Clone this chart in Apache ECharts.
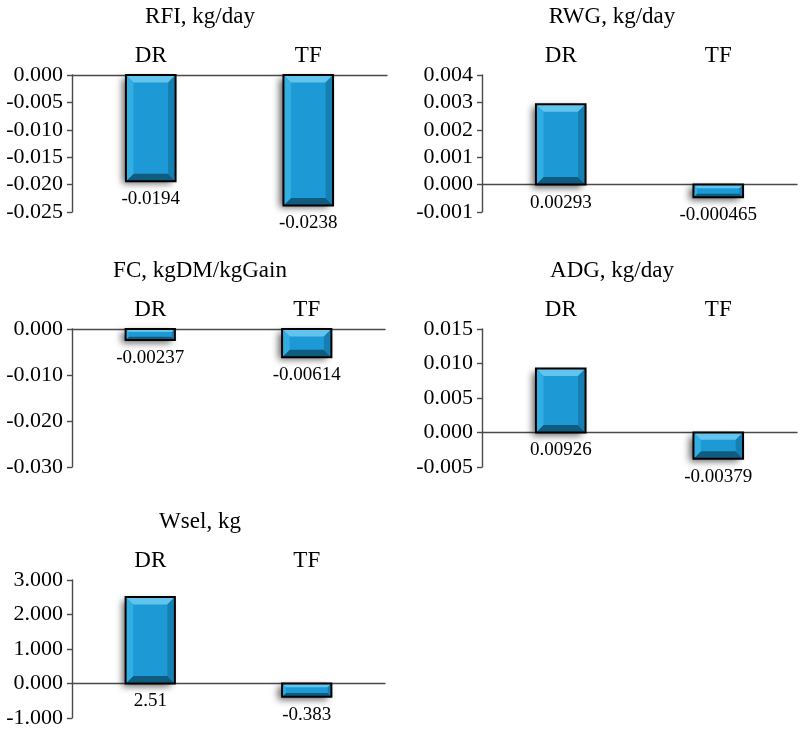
<!DOCTYPE html>
<html>
<head>
<meta charset="utf-8">
<script src="https://cdn.jsdelivr.net/npm/echarts@6/dist/echarts.min.js"></script>
<style>
html,body{margin:0;padding:0;background:#fff;}
#chart{width:800px;height:731px;}
</style>
</head>
<body>
<div id="chart"></div>
<script>
// ---- data ----
var categories = ['DR', 'TF'];
var panelTitles = ['RFI, kg/day', 'RWG, kg/day', 'FC, kgDM/kgGain', 'ADG, kg/day', 'Wsel, kg'];
var rfiValues = [-0.0194, -0.0238];
var rwgValues = [0.00293, -0.000465];
var fcValues = [-0.00237, -0.00614];
var adgValues = [0.00926, -0.00379];
var wselValues = [2.51, -0.383];
var axisMins = [-0.025, -0.001, -0.030, -0.005, -1];
var axisMaxs = [0, 0.004, 0, 0.015, 3];
var axisIntervals = [0.005, 0.001, 0.010, 0.005, 1];
var panelValues = [rfiValues, rwgValues, fcValues, adgValues, wselValues];

// ---- layout ----
var grids = [
  {left: 72, top: 75, width: 315, height: 137},
  {left: 482, top: 75, width: 315, height: 137},
  {left: 72, top: 329, width: 313, height: 138},
  {left: 482, top: 329, width: 315, height: 138},
  {left: 72, top: 580, width: 313, height: 138}
];
var titlePos = [[200, 17], [612, 17], [200, 271], [612, 271], [200, 522]];

var FONT = '"Liberation Serif", "Times New Roman", serif';

function renderBar(params, api) {
  var cat = api.value(0);
  var val = api.value(1);
  var zero = api.coord([cat, 0]);
  var end = api.coord([cat, val]);
  var w = api.size([1, 0])[0] * 0.315;
  var l = zero[0] - w / 2, r = zero[0] + w / 2;
  var t = Math.min(zero[1], end[1]), b = Math.max(zero[1], end[1]);
  var h = b - t;
  var bv = Math.min(7.5, h * 0.28);
  var children = [
    {type: 'rect', shape: {x: l, y: t, width: w, height: h},
     style: {fill: '#1d9ad6', shadowBlur: 7, shadowOffsetX: -4, shadowOffsetY: 3, shadowColor: 'rgba(0,0,0,0.6)'}},
    // top bevel
    {type: 'polygon', shape: {points: [[l, t], [r, t], [r - bv, t + bv], [l + bv, t + bv]]}, style: {fill: '#62c4ec'}},
    // bottom bevel
    {type: 'polygon', shape: {points: [[l, b], [r, b], [r - bv, b - bv], [l + bv, b - bv]]}, style: {fill: '#105c80'}},
    // left bevel
    {type: 'polygon', shape: {points: [[l, t], [l + bv, t + bv], [l + bv, b - bv], [l, b]]}, style: {fill: '#33aee2'}},
    // right bevel
    {type: 'polygon', shape: {points: [[r, t], [r - bv, t + bv], [r - bv, b - bv], [r, b]]}, style: {fill: '#167fb1'}},
    // border
    {type: 'rect', shape: {x: l, y: t, width: w, height: h},
     style: {fill: null, stroke: '#000', lineWidth: 2}},
    // value label
    {type: 'text', x: zero[0], y: b + 18,
     style: {text: String(val), font: '19px ' + FONT, fill: '#000', align: 'center', verticalAlign: 'middle'}}
  ];
  return {type: 'group', children: children};
}

var option = {
  animation: false,
  backgroundColor: '#fff',
  grid: [], xAxis: [], yAxis: [], series: [], graphic: []
};

for (var i = 0; i < 5; i++) {
  option.grid.push({left: grids[i].left, top: grids[i].top, width: grids[i].width, height: grids[i].height, containLabel: false});
  // top category axis with labels
  option.xAxis.push({
    type: 'category', gridIndex: i, data: categories, position: 'top',
    axisLine: {show: false, onZero: false}, axisTick: {show: false},
    axisLabel: {fontFamily: FONT, fontSize: 23, color: '#000', margin: 8}
  });
  // zero line axis
  option.xAxis.push({
    type: 'category', gridIndex: i, data: categories, position: 'bottom',
    axisLine: {show: true, onZero: true, lineStyle: {color: '#4a4a4a', width: 1.4}},
    axisTick: {show: false}, axisLabel: {show: false}
  });
  option.yAxis.push({
    type: 'value', gridIndex: i, min: axisMins[i], max: axisMaxs[i], interval: axisIntervals[i],
    axisLine: {show: true, lineStyle: {color: '#4a4a4a', width: 1.4}},
    axisTick: {show: true, inside: false, length: 5, lineStyle: {color: '#4a4a4a', width: 1.4}},
    splitLine: {show: false},
    axisLabel: {fontFamily: FONT, fontSize: 22, color: '#000', margin: 9,
      formatter: function (v) { return v.toFixed(3); }}
  });
  var data = panelValues[i].map(function (v, k) { return [k, v]; });
  option.series.push({
    type: 'custom', xAxisIndex: i * 2, yAxisIndex: i,
    renderItem: renderBar, data: data, clip: false,
    encode: {x: 0, y: 1}
  });
  option.graphic.push({
    type: 'text', x: titlePos[i][0], y: titlePos[i][1],
    style: {text: panelTitles[i], font: '23px ' + FONT, fill: '#000', align: 'center', verticalAlign: 'middle'}
  });
}

var chart = echarts.init(document.getElementById('chart'), null, {renderer: 'canvas'});
chart.setOption(option);
</script>
</body>
</html>
